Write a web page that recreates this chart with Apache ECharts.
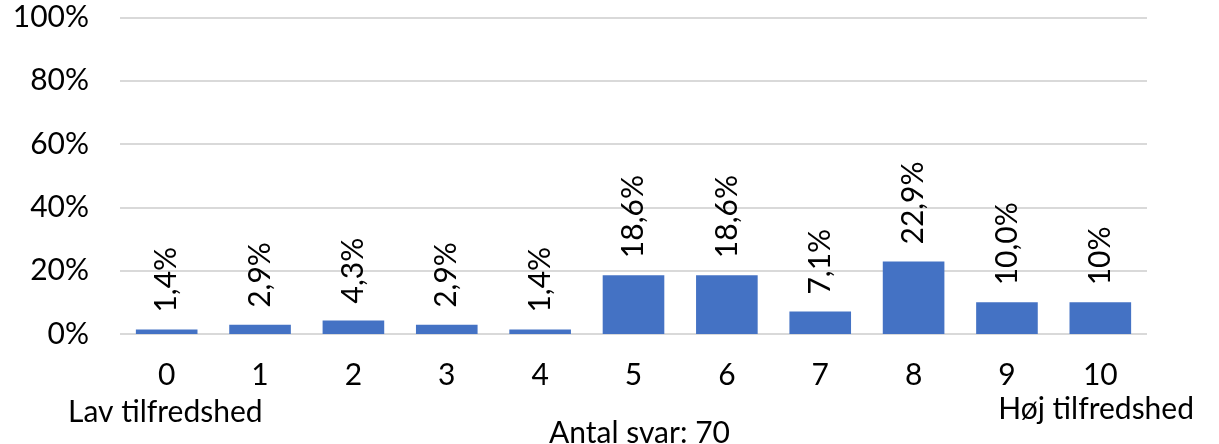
<!DOCTYPE html>
<html><head><meta charset="utf-8">
<script src="https://cdn.jsdelivr.net/npm/echarts@6/dist/echarts.min.js"></script>
<style>html,body{margin:0;padding:0;background:#fff}#c{width:1219px;height:444px}</style>
</head><body><div id="c"></div>
<script>
const categories = ['0','1','2','3','4','5','6','7','8','9','10'];
const values = [1.4, 2.9, 4.3, 2.9, 1.4, 18.6, 18.6, 7.1, 22.9, 10.0, 10.0];
const valueLabels = ['1,4%','2,9%','4,3%','2,9%','1,4%','18,6%','18,6%','7,1%','22,9%','10,0%','10%'];
const yTicks = [0, 20, 40, 60, 80, 100];
const leftNote = 'Lav tilfredshed';
const rightNote = 'Høj tilfredshed';
const countNote = 'Antal svar: 70';

const FONT = 'Lato';
const FS = 30;
const chart = echarts.init(document.getElementById('c'));
chart.setOption({
  animation: false,
  textStyle: {fontFamily: FONT},
  grid: {left: 120, right: 72, top: 17.5, bottom: 110, containLabel: false},
  xAxis: {
    type: 'category', data: categories,
    axisLine: {show: false}, axisTick: {show: false},
    axisLabel: {fontSize: FS, color: '#000', margin: 26, fontFamily: FONT}
  },
  yAxis: {
    type: 'value', min: yTicks[0], max: yTicks[yTicks.length-1], interval: 20,
    axisLine: {show: false}, axisTick: {show: false},
    splitLine: {lineStyle: {color: '#d9d9d9', width: 2}},
    axisLabel: {fontSize: FS, color: '#000', margin: 31, fontFamily: FONT, formatter: v => v + '%'}
  },
  series: [{
    type: 'bar', data: values, barWidth: '66%',
    itemStyle: {color: '#4472c4'},
    label: {
      show: true, position: 'top', rotate: 90, distance: 17,
      align: 'left', verticalAlign: 'middle',
      fontSize: FS, color: '#000', fontFamily: FONT,
      formatter: p => valueLabels[p.dataIndex]
    }
  }],
  graphic: [
    {type: 'text', left: 68, top: 397, style: {text: leftNote, fontSize: FS, fill: '#000', fontFamily: FONT}},
    {type: 'text', right: 25, top: 394, style: {text: rightNote, fontSize: FS, fill: '#000', fontFamily: FONT}},
    {type: 'text', left: 549, top: 418, style: {text: countNote, fontSize: FS, fill: '#000', fontFamily: FONT}}
  ]
});
</script></body></html>
